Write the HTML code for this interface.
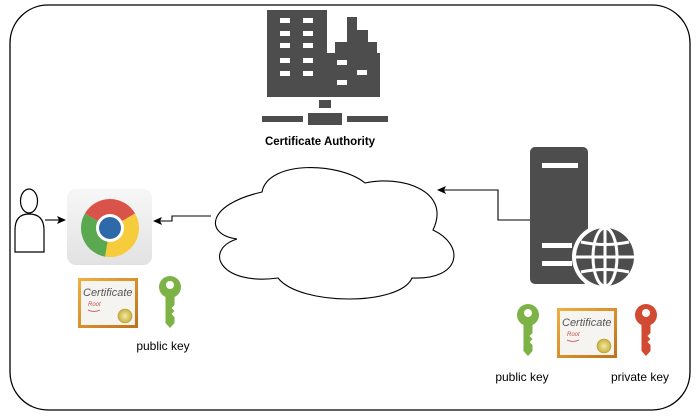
<!DOCTYPE html>
<html><head><meta charset="utf-8"><style>
html,body{margin:0;padding:0;background:#fff;}
svg{display:block;}
text{font-family:"Liberation Sans",Arial,sans-serif;}
</style></head><body>
<svg width="700" height="416" viewBox="0 0 700 416" xmlns="http://www.w3.org/2000/svg">
<defs>
<linearGradient id="cg" x1="0" y1="0" x2="0" y2="1"><stop offset="0" stop-color="#f7f7f7"/><stop offset="1" stop-color="#e2e2e2"/></linearGradient>
<linearGradient id="cf" x1="0" y1="0" x2="1" y2="1"><stop offset="0" stop-color="#f0b040"/><stop offset="1" stop-color="#c0701a"/></linearGradient>
<radialGradient id="seal"><stop offset="0" stop-color="#f5eaa0"/><stop offset="1" stop-color="#c8b040"/></radialGradient>
<g id="cert">
<rect x="0" y="0" width="60" height="50" fill="url(#cf)"/>
<rect x="3" y="3" width="54" height="44" fill="#f6f4f0"/>
<text x="5" y="18" font-family="Liberation Serif,serif" font-style="italic" font-size="11" fill="#555">Certificate</text>
<text x="10" y="28" font-family="Liberation Serif,serif" font-style="italic" font-size="6" fill="#c05050">Root</text>
<path d="M10 32 q6 3 12 0" stroke="#c05050" fill="none" stroke-width="0.8"/>
<circle cx="47" cy="38" r="7" fill="url(#seal)" stroke="#b09a30" stroke-width="0.6"/>
</g>
<g id="key">
<circle cx="11" cy="11" r="11"/>
<path d="M6.5 18 h9 v11 l-3 3 l3 3 l-3 3 l3 3 v6 l-4.5 5 l-4.5 -5 z"/>
<circle cx="11" cy="9" r="4" fill="#fff"/>
</g>
</defs>
<rect x="10" y="5" width="680" height="405" rx="38" ry="38" fill="#fff" stroke="#000" stroke-width="1.3"/>

<g fill="#4d4d4d">
<rect x="267" y="10" width="60" height="87"/>
<path d="M327 97 V53 H335 V42 H347 V17 H357 V30 H368 V42 H377 V53 H380 V97 Z"/>
<rect x="319" y="100" width="12" height="8"/>
<rect x="308" y="113" width="34" height="12"/>
<rect x="262" y="116" width="41" height="6"/>
<rect x="347" y="116" width="41" height="6"/>
</g>
<g fill="#fff">
<rect x="280" y="18" width="10" height="5"/><rect x="303" y="18" width="10" height="5"/>
<rect x="280" y="31" width="10" height="5"/><rect x="303" y="31" width="10" height="5"/>
<rect x="280" y="43" width="10" height="5"/><rect x="303" y="43" width="10" height="5"/>
<rect x="280" y="58" width="10" height="5"/><rect x="303" y="58" width="10" height="5"/>
<rect x="280" y="71" width="10" height="5"/><rect x="303" y="71" width="10" height="5"/>
<rect x="337" y="60" width="10" height="5"/><rect x="357" y="70" width="10" height="5"/><rect x="337" y="80" width="10" height="5"/>
</g>
<text x="320" y="145" font-size="11.5" font-weight="bold" text-anchor="middle">Certificate Authority</text>

<path d="M237 239 C205 235,205 205,262 192 C268 160,340 162,365 183 C400 175,452 190,433 230 C465 245,462 280,412 278 C400 306,300 306,278 278 C220 286,203 250,237 239 Z" fill="#fff" stroke="#000" stroke-width="1.1"/>

<path d="M211 216 H172 V221 H160" fill="none" stroke="#000" stroke-width="1.1"/>
<path d="M153 221 L162 217 L160 221 L162 225 Z" fill="#000"/>
<path d="M530 220 H498 V190 H444" fill="none" stroke="#000" stroke-width="1.1"/>
<path d="M437 190 L446 186 L444 190 L446 194 Z" fill="#000"/>
<path d="M45 220 H60" fill="none" stroke="#000" stroke-width="1.1"/>
<path d="M66 220 L57 216 L59 220 L57 224 Z" fill="#000"/>

<ellipse cx="29" cy="201" rx="8.5" ry="12" fill="#fff" stroke="#000" stroke-width="1.2"/>
<path d="M15 252 V230 Q15 214 29 214 Q44 214 44 230 V252 Z" fill="#fff" stroke="#000" stroke-width="1.2"/>

<rect x="67" y="189" width="85" height="76" rx="9" fill="url(#cg)"/>
<g transform="translate(110,228)">
<path d="M0 0 L-25.1 -14.5 A29 29 0 0 1 25.1 -14.5 Z" fill="#d9534a"/>
<path d="M0 0 L25.1 -14.5 A29 29 0 0 1 -5 28.6 Z" fill="#f6cb3c"/>
<path d="M0 0 L-5 28.6 A29 29 0 0 1 -25.1 -14.5 Z" fill="#5aa84f"/>
<circle r="14" fill="#fff"/><circle r="11" fill="#2f6aa8"/>
</g>

<use href="#cert" x="78" y="278"/>
<use href="#key" x="159" y="276" fill="#7db246"/>
<text x="163" y="350" font-size="12" text-anchor="middle">public key</text>

<rect x="530" y="147" width="58" height="137" rx="5" fill="#4d4d4d"/>
<rect x="542" y="163" width="36" height="5" fill="#fff"/>
<rect x="542" y="243" width="30" height="5" fill="#fff"/>
<rect x="542" y="261" width="30" height="5" fill="#fff"/>
<g transform="translate(605,257)">
<circle r="33" fill="#fff"/>
<circle r="29" fill="#4d4d4d"/>
<g fill="none" stroke="#fff" stroke-width="3">
<ellipse rx="12" ry="29"/>
<line x1="0" y1="-29" x2="0" y2="29"/>
<line x1="-29" y1="0" x2="29" y2="0"/>
<path d="M-24 -15 Q0 -10 24 -15"/>
<path d="M-24 15 Q0 10 24 15"/>
</g>
</g>

<use href="#key" x="517" y="304" fill="#7db246"/>
<use href="#cert" x="557" y="308"/>
<use href="#key" x="635" y="304" fill="#d24a31"/>
<text x="522" y="381" font-size="12" text-anchor="middle">public key</text>
<text x="640" y="381" font-size="12" text-anchor="middle">private key</text>
</svg>
</body></html>
